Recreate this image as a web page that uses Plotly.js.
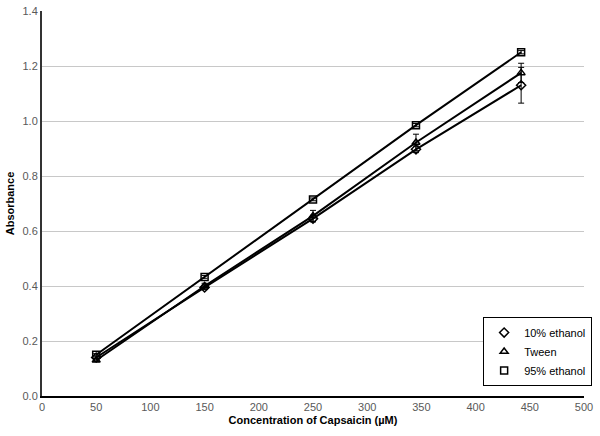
<!DOCTYPE html>
<html>
<head>
<meta charset="utf-8">
<script src="https://cdn.plot.ly/plotly-3.0.1.min.js"></script>
<style>
  html, body { margin: 0; padding: 0; background: #fff; }
  #plot { width: 600px; height: 436px; }
</style>
</head>
<body>
<div id="plot"></div>
<script>
// concentrations (µM)
const conc = [50, 150, 250, 345, 442];

// absorbance per vehicle
const ethanol10 = [0.14, 0.395, 0.645, 0.897, 1.13];
const ethanol10Err = [0.005, 0.008, 0.012, 0.012, 0.065];
const tween = [0.13, 0.40, 0.655, 0.922, 1.175];
const tweenErr = [0.005, 0.01, 0.02, 0.03, 0.035];
const ethanol95 = [0.15, 0.433, 0.715, 0.985, 1.25];
const ethanol95Err = [0.004, 0.005, 0.005, 0.006, 0.006];

const names = ['10% ethanol', 'Tween', '95% ethanol'];
const symbols = ['diamond-open', 'triangle-up-open', 'square-open'];
const series = [ethanol10, tween, ethanol95];
const errors = [ethanol10Err, tweenErr, ethanol95Err];

const traces = [];
series.forEach((vals, i) => {
    traces.push({
        x: conc,
        y: vals,
        mode: 'lines+markers',
        type: 'scatter',
        showlegend: false,
        line: { color: '#000', width: 2 },
        marker: { symbol: symbols[i], size: 7, color: '#000', line: { width: 1.5, color: '#000' } },
        error_y: { type: 'data', array: errors[i], visible: true, color: '#000', thickness: 1, width: 3 },
    });
});
// legend shows only the marker, like the original
series.forEach((vals, i) => {
    traces.push({
        x: [null],
        y: [null],
        name: names[i],
        mode: 'markers',
        type: 'scatter',
        marker: { symbol: symbols[i], size: 7, color: '#000', line: { width: 1.5, color: '#000' } },
    });
});

Plotly.newPlot('plot', traces, {
    width: 600,
    height: 436,
    margin: { l: 42, r: 16, t: 11, b: 40, autoexpand: false },
    paper_bgcolor: '#fff',
    plot_bgcolor: '#fff',
    font: { family: 'Liberation Sans, Arial, sans-serif', size: 11, color: '#595959' },
    xaxis: {
        range: [0, 500],
        dtick: 50,
        showgrid: false,
        zeroline: false,
        showline: true,
        linecolor: '#000',
        linewidth: 2,
        ticks: '',
        tickfont: { size: 11, color: '#595959' },
        title: { text: 'Concentration of Capsaicin (µM)', font: { size: 11, color: '#000', weight: 'bold' }, standoff: 4 },
    },
    yaxis: {
        range: [0, 1.4],
        dtick: 0.2,
        tickformat: '.1f',
        showgrid: true,
        gridcolor: '#c8c8c8',
        gridwidth: 1,
        zeroline: false,
        showline: true,
        linecolor: '#333',
        linewidth: 2,
        ticks: '',
        tickfont: { size: 11, color: '#595959' },
        title: { text: 'Absorbance', font: { size: 11, color: '#000', weight: 'bold' }, standoff: 6 },
    },
    legend: {
        x: 1.015,
        y: 0.205,
        xanchor: 'right',
        yanchor: 'top',
        bgcolor: '#fff',
        bordercolor: '#000',
        borderwidth: 1,
        font: { size: 11, color: '#000' },
        itemwidth: 30,
        tracegroupgap: 0,
    },
}, { displayModeBar: false });
</script>
</body>
</html>
